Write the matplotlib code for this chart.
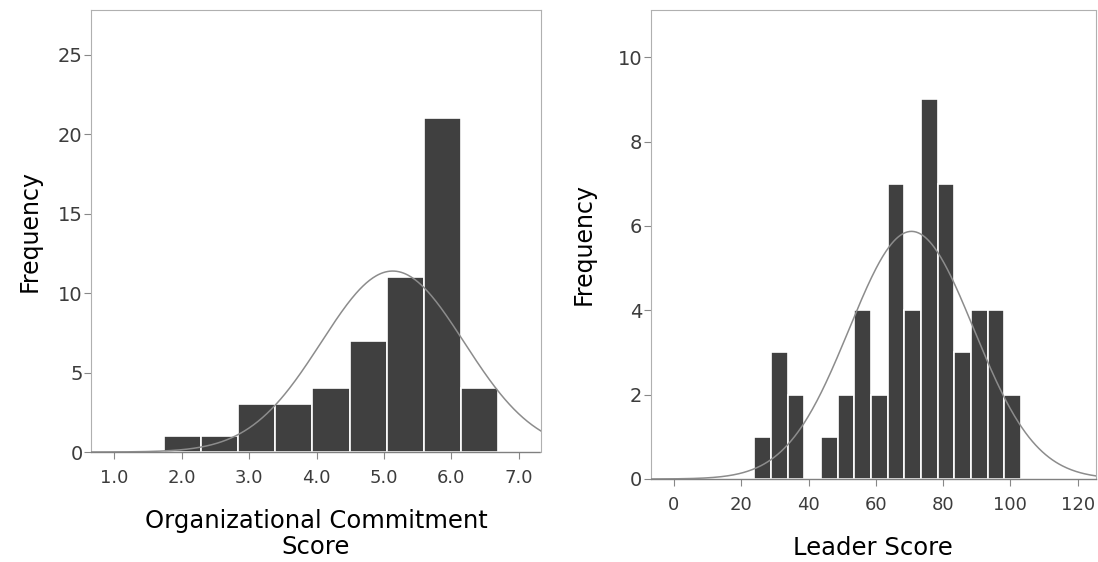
import numpy as np
import matplotlib
matplotlib.use('Agg')
from matplotlib import pyplot as plt

# ---------------------------------------------------------------
# data

# Organizational Commitment histogram
oc_bin_start = 1.74
oc_bin_width = 0.55
oc_counts = [1, 1, 3, 3, 4, 7, 11, 21, 4]
oc_mean = 5.13
oc_sd = 1.06
oc_ticks = [1.0, 2.0, 3.0, 4.0, 5.0, 6.0, 7.0]
oc_ticklabels = ['1.0', '2.0', '3.0', '4.0', '5.0', '6.0', '7.0']
oc_yticks = [0, 5, 10, 15, 20, 25]

# Leader Score histogram
ld_bin_start = 23.9
ld_bin_width = 4.95
ld_counts = [1, 3, 2, 0, 1, 2, 4, 2, 7, 4, 9, 7, 3, 4, 4, 2]
ld_mean = 70.6
ld_sd = 18.5
ld_ticks = [0, 20, 40, 60, 80, 100, 120]
ld_yticks = [0, 2, 4, 6, 8, 10]

# ---------------------------------------------------------------
plt.rcParams['font.family'] = ['DejaVu Sans']

bar_col = '#404040'
curve_col = '#8c8c8c'


def draw_hist(ax, start, width, counts, mean, sd, xlim, ylim):
    edges = start + width * np.arange(len(counts))
    ax.bar(edges, counts, width=width, align='edge', color=bar_col,
           edgecolor='white', linewidth=1.2, zorder=2)
    # normal curve scaled to counts
    n = np.sum(counts)
    xx = np.linspace(xlim[0], xlim[1], 400)
    yy = n * width / (sd * np.sqrt(2 * np.pi)) * np.exp(-0.5 * ((xx - mean) / sd) ** 2)
    ax.plot(xx, yy, color=curve_col, lw=1.1, zorder=3)
    ax.set_xlim(xlim)
    ax.set_ylim(ylim)
    # frame
    for s in ['top', 'right', 'left']:
        ax.spines[s].set_color('#b0b0b0')
        ax.spines[s].set_linestyle((0, (2, 1)))
        ax.spines[s].set_linewidth(0.8)
    ax.spines['bottom'].set_color('#808080')
    ax.spines['bottom'].set_linestyle((0, (3, 1)))
    ax.spines['bottom'].set_linewidth(1.0)
    ax.tick_params(axis='both', colors='#888888', length=5, width=0.8)
    ax.tick_params(axis='y', labelsize=14, pad=1)
    ax.tick_params(axis='x', labelsize=13, pad=7)


fig = plt.figure(figsize=[10.98, 5.62], dpi=100)

# left panel
ax1 = fig.add_axes([0.0829, 0.1957, 0.4098, 0.7863])
draw_hist(ax1, oc_bin_start, oc_bin_width, oc_counts, oc_mean, oc_sd,
          (0.655, 7.33), (0, 27.8))
ax1.set_xticks(oc_ticks)
ax1.set_xticklabels(oc_ticklabels)
ax1.set_yticks(oc_yticks)
for lab in ax1.get_xticklabels() + ax1.get_yticklabels():
    lab.set_color('#3c3c3c')
ax1.set_ylabel('Frequency', fontsize=17, labelpad=12)
ax1.set_xlabel('Organizational Commitment\nScore', fontsize=17.5,
               labelpad=16, linespacing=1.1)

# right panel
ax2 = fig.add_axes([0.5926, 0.1477, 0.4055, 0.8353])
draw_hist(ax2, ld_bin_start, ld_bin_width, ld_counts, ld_mean, ld_sd,
          (-6.9, 125.4), (0, 11.13))
ax2.set_xticks(ld_ticks)
ax2.set_yticks(ld_yticks)
for lab in ax2.get_xticklabels() + ax2.get_yticklabels():
    lab.set_color('#3c3c3c')
ax2.set_ylabel('Frequency', fontsize=17, labelpad=16)
ax2.set_xlabel('Leader Score', fontsize=17.5, labelpad=16)

fig.savefig('out.png', dpi=100)
